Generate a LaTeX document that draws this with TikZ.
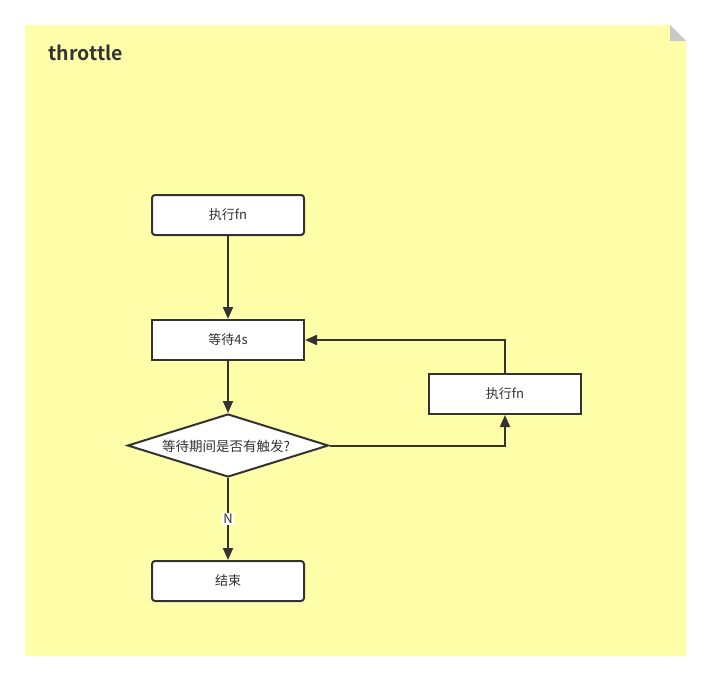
\documentclass[tikz,border=0pt]{standalone}
\usepackage{fontspec}
\setmainfont{Noto Sans CJK SC}
\newfontfamily\cjkbold{Noto Sans CJK SC Bold}
\usetikzlibrary{arrows.meta,shapes.geometric}
\definecolor{noteyellow}{RGB}{255,255,170}
\definecolor{foldgrey}{RGB}{200,200,200}
\definecolor{ink}{RGB}{51,51,51}
\tikzset{
  box/.style={draw=ink,fill=white,line width=2pt,minimum width=152pt,minimum height=40pt,inner sep=0pt,font=\fontsize{13}{15}\selectfont,text=ink},
  rbox/.style={box,rounded corners=3pt},
  decision/.style={draw=ink,fill=white,line width=2pt,diamond,minimum width=201pt,minimum height=63pt,inner sep=0pt,aspect=3.2},
  conn/.style={draw=ink,line width=2pt,-{Triangle[length=12pt,width=10pt]}},
  lbl/.style={fill=white,inner sep=1pt,font=\fontsize{13}{15}\selectfont,text=ink}
}
\begin{document}
\begin{tikzpicture}[x=1pt,y=-1pt]
\useasboundingbox (0,0) rectangle (711,680);
\fill[white] (0,0) rectangle (711,680);
\fill[noteyellow] (25,25) -- (670,25) -- (686,41) -- (686,656) -- (25,656) -- cycle;
\fill[foldgrey] (670,25) -- (686,41) -- (670,41) -- cycle;
\node[anchor=west,text=ink,inner sep=0pt,font=\cjkbold\fontsize{19.5}{22}\selectfont] (title) at (48.5,53) {throttle};
\node[rbox] (b1) at (228,215) {执行fn};
\node[box] (b2) at (228,340) {等待4s};
\node[decision] (d) at (228,445.5) {};
\node[text=ink,font=\fontsize{13.5}{15}\selectfont] (dt) at (226,446) {等待期间是否有触发?};
\node[box] (b3) at (505,394) {执行fn};
\node[rbox] (b4) at (228,581) {结束};
\draw[conn] (b1.south) -- (b2.north);
\draw[conn] (b2.south) -- (d.north);
\draw[conn] (d.east) -| (b3.south);
\draw[conn] (b3.north) |- (b2.east);
\draw[conn] (d.south) -- node[lbl,pos=0.5] (n) {N} (b4.north);
\end{tikzpicture}
\end{document}
